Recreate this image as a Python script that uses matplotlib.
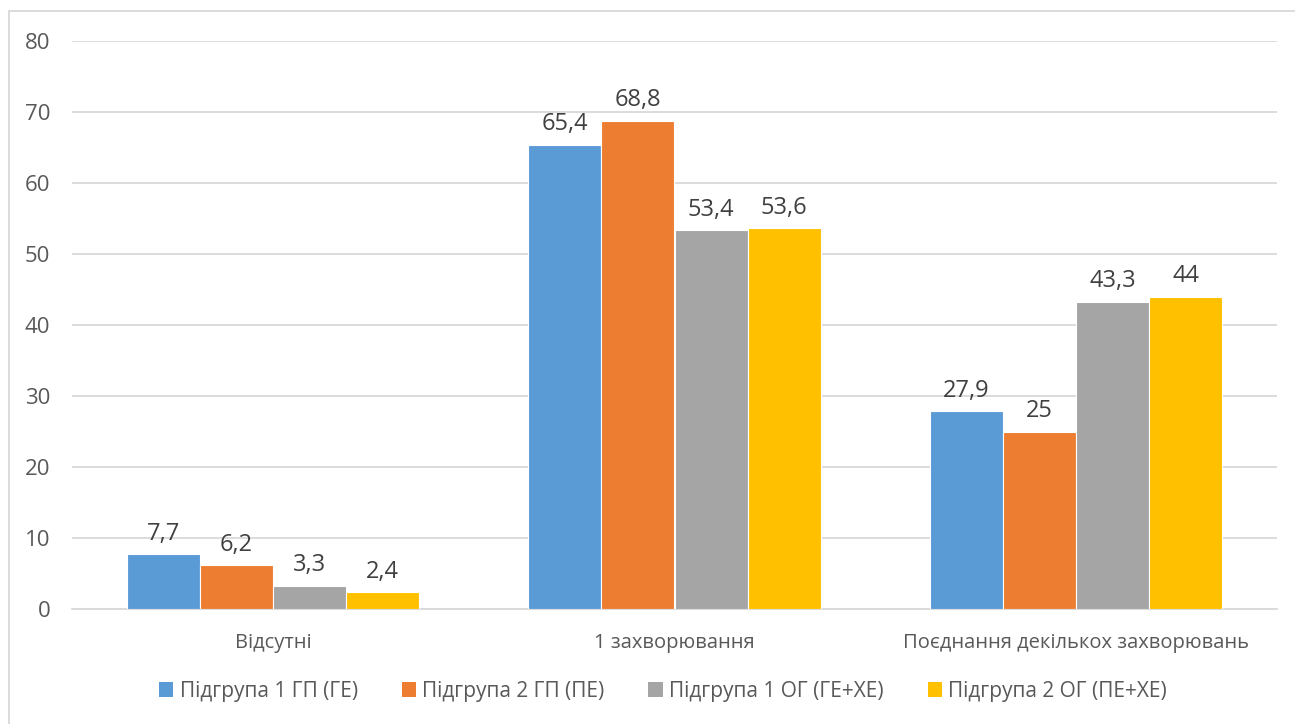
import matplotlib
matplotlib.use("Agg")
import matplotlib.pyplot as plt
import numpy as np
from matplotlib.lines import Line2D
from matplotlib.patches import Patch

categories = ["Відсутні", "1 захворювання", "Поєднання декількох захворювань"]
series_names = ["Підгрупа 1 ГП (ГЕ)", "Підгрупа 2 ГП (ПЕ)",
                "Підгрупа 1 ОГ (ГЕ+ХЕ)", "Підгрупа 2 ОГ (ПЕ+ХЕ)"]
s1 = [7.7, 65.4, 27.9]
s2 = [6.2, 68.8, 25]
s3 = [3.3, 53.4, 43.3]
s4 = [2.4, 53.6, 44]
series = [s1, s2, s3, s4]
colors = ["#5B9BD5", "#ED7D31", "#A5A5A5", "#FFC000"]
yticks = [0, 10, 20, 30, 40, 50, 60, 70, 80]

plt.rcParams['font.family'] = ['Open Sans', 'DejaVu Sans']

W, H = 1295, 724
fig = plt.figure(figsize=(W / 100, H / 100), dpi=100)
ax = fig.add_axes([72 / W, 1 - 609 / H, (1277 - 72) / W, (609 - 41) / H])

x = np.arange(len(categories))
bw = 0.727 / 4
for i, (vals, c, name) in enumerate(zip(series, colors, series_names)):
    pos = x + (i - 1.5) * bw
    ax.bar(pos, vals, width=bw, color=c, edgecolor="white", linewidth=0.8,
           label=name, zorder=3)
    for xb, v in zip(pos, vals):
        lbl = ("%g" % v).replace(".", ",")
        ax.annotate(lbl, (xb, v), xytext=(0, 6), textcoords="offset points",
                    ha="center", va="bottom", fontsize=17, color="#404040")

ax.set_xlim(-0.5, 2.5)
ax.set_ylim(0, 80)
ax.set_yticks(yticks)
ax.set_yticklabels([str(t) for t in yticks])
ax.set_xticks(x)
ax.set_xticklabels(categories)
ax.grid(axis="y", color="#D9D9D9", linewidth=1.3, zorder=0)
for s in ["top", "right", "left"]:
    ax.spines[s].set_visible(False)
ax.spines["bottom"].set_color("#D9D9D9")
ax.spines["bottom"].set_linewidth(1.3)
ax.tick_params(axis="both", length=0, colors="#595959")
ax.tick_params(axis="y", pad=15.5, labelsize=16)
ax.tick_params(axis="x", pad=17, labelsize=14.5)

handles = [Patch(facecolor=c, edgecolor="none") for c in colors]
fig.legend(handles, series_names, loc="center", bbox_to_anchor=(663 / W, 1 - 691 / H),
           ncol=4, frameon=False, fontsize=15, labelcolor="#595959",
           handlelength=0.7, handleheight=0.7, handletextpad=0.3, columnspacing=2.1)

# chart area border
fig.add_artist(Line2D([9 / W, 1], [1 - 11 / H, 1 - 11 / H], transform=fig.transFigure,
                      color="#D9D9D9", linewidth=1.3))
fig.add_artist(Line2D([9 / W, 9 / W], [0, 1 - 11 / H], transform=fig.transFigure,
                      color="#D9D9D9", linewidth=1.3))

fig.savefig("out.png", dpi=100)
